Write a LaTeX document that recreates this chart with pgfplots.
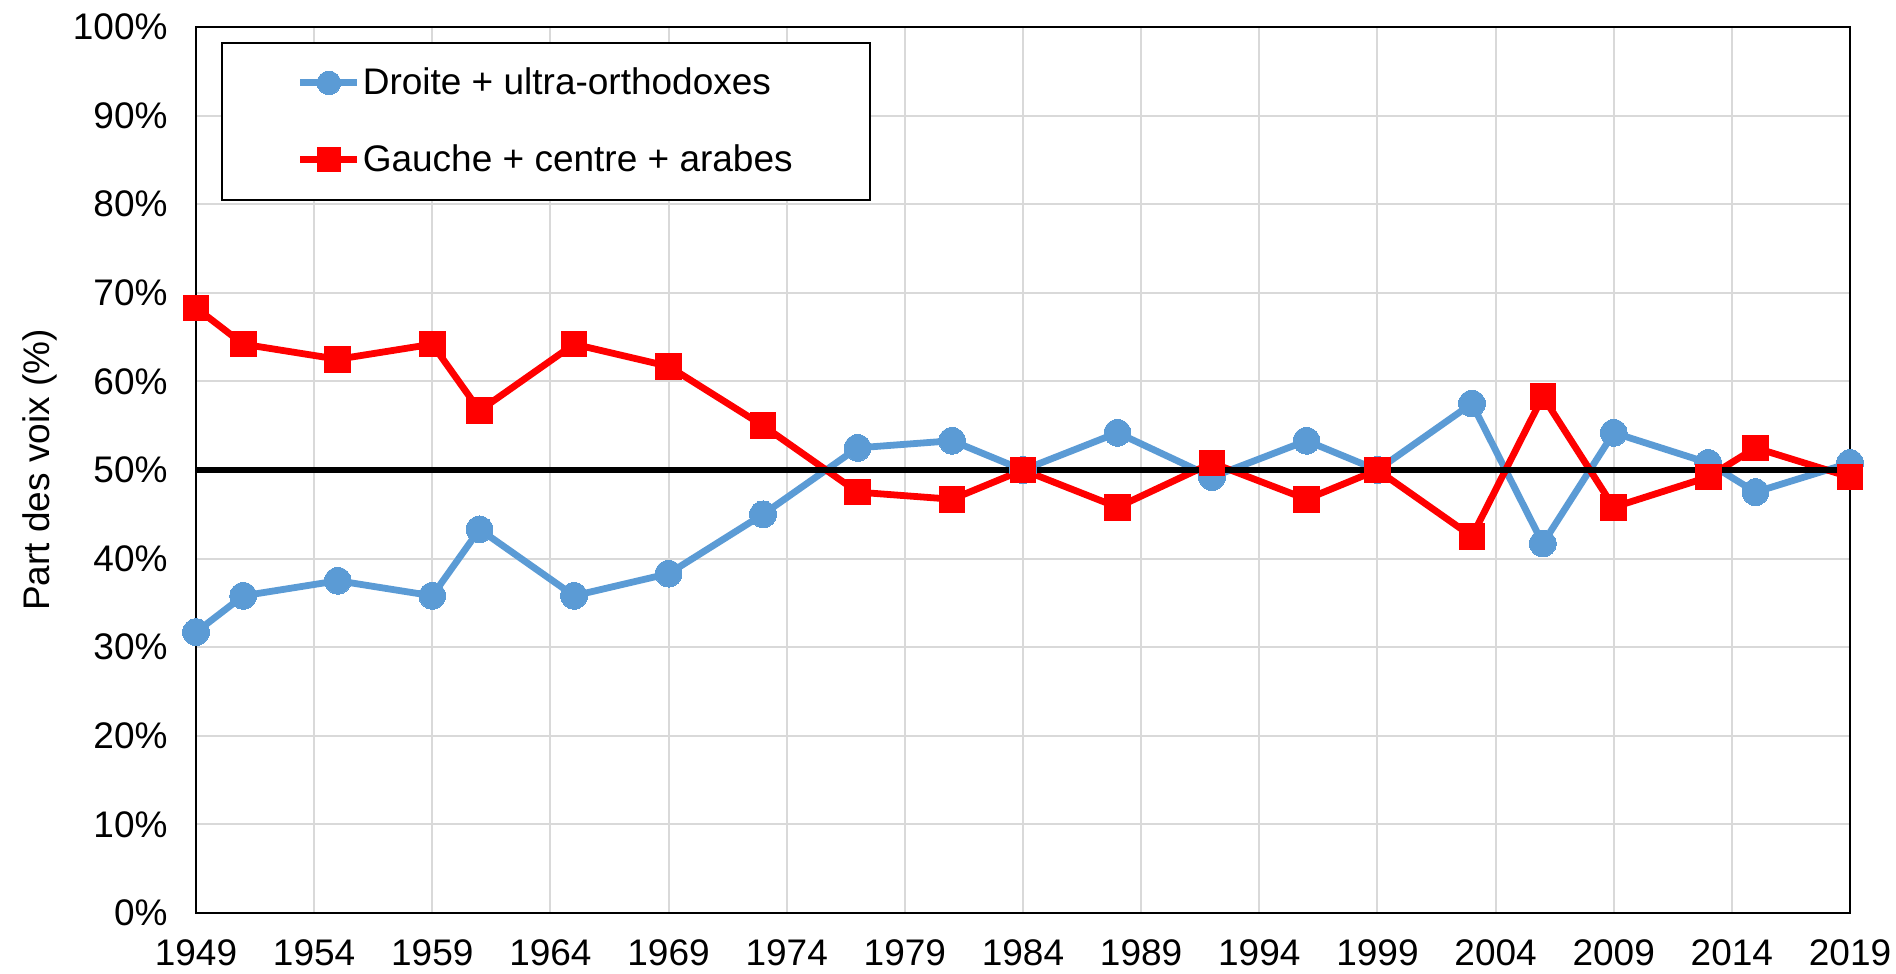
\documentclass[border=0pt]{standalone}
\usepackage{pgfplots}
\pgfplotsset{compat=1.18}
\usepackage{fontspec}
\setmainfont{Liberation Sans}

\definecolor{droite}{RGB}{91,155,213}
\definecolor{gauche}{RGB}{255,0,0}
\definecolor{gridgray}{RGB}{217,217,217}
\newcommand{\lblfont}{\fontsize{18.5}{22}\selectfont}

\begin{document}
\begin{tikzpicture}
\useasboundingbox (-98pt,-30.5pt) rectangle (850pt,456.5pt);
\begin{axis}[
  scale only axis,
  width=827pt, height=443pt,
  at={(0,0)}, anchor=south west,
  xmin=1949, xmax=2019,
  ymin=0, ymax=100,
  xtick={1949,1954,...,2019},
  ytick={0,10,...,100},
  yticklabel={\pgfmathprintnumber{\tick}\%},
  /pgf/number format/1000 sep={},
  /pgf/number format/assume math mode=true,
  major tick length=0pt,
  xmajorgrids, ymajorgrids,
  grid style={color=gridgray, line width=1pt},
  axis line style={black, line width=0.9pt},
  tick label style={font=\lblfont},
  xticklabel style={yshift=-9.7pt},
  yticklabel style={xshift=-10.7pt},
  ylabel={Part des voix (\%)},
  ylabel style={font=\lblfont, at={(axis description cs:-0.0944,0.5)}, anchor=center},
  clip=false,
  legend cell align=left,
  legend style={at={(12.5pt,435.6pt)}, anchor=north west, font=\lblfont,
    draw=black, line width=1pt, inner xsep=37.5pt, inner ysep=12.6pt,
    row sep=23.5pt, nodes={inner xsep=1pt, inner ysep=0pt}},
  legend image code/.code={\draw[mark repeat=2,mark phase=2,#1,mark size=5.9pt] plot coordinates {(0pt,0pt) (14.25pt,0pt) (28.5pt,0pt)};},
]
\addplot[droite, line width=3.4pt, mark=*, mark size=6.7pt, mark options={line width=0pt, fill=droite}] coordinates {
  (1949,31.7) (1951,35.8) (1955,37.5) (1959,35.8) (1961,43.3) (1965,35.8)
  (1969,38.3) (1973,45.0) (1977,52.5) (1981,53.3) (1984,50.0) (1988,54.2)
  (1992,49.2) (1996,53.3) (1999,50.0) (2003,57.5) (2006,41.7) (2009,54.2)
  (2013,50.8) (2015,47.5) (2019,50.8)
};
\addlegendentry{Droite + ultra-orthodoxes}
\addplot[gauche, line width=3.4pt, mark=square*, mark size=6.4pt, mark options={line width=0pt, fill=gauche}] coordinates {
  (1949,68.3) (1951,64.2) (1955,62.5) (1959,64.2) (1961,56.7) (1965,64.2)
  (1969,61.7) (1973,55.0) (1977,47.5) (1981,46.7) (1984,50.0) (1988,45.8)
  (1992,50.8) (1996,46.7) (1999,50.0) (2003,42.5) (2006,58.3) (2009,45.8)
  (2013,49.2) (2015,52.5) (2019,49.2)
};
\addlegendentry{Gauche + centre + arabes}
\addplot[black, line width=3pt, forget plot] coordinates {(1949,50) (2019,50)};
\end{axis}
\end{tikzpicture}
\end{document}
